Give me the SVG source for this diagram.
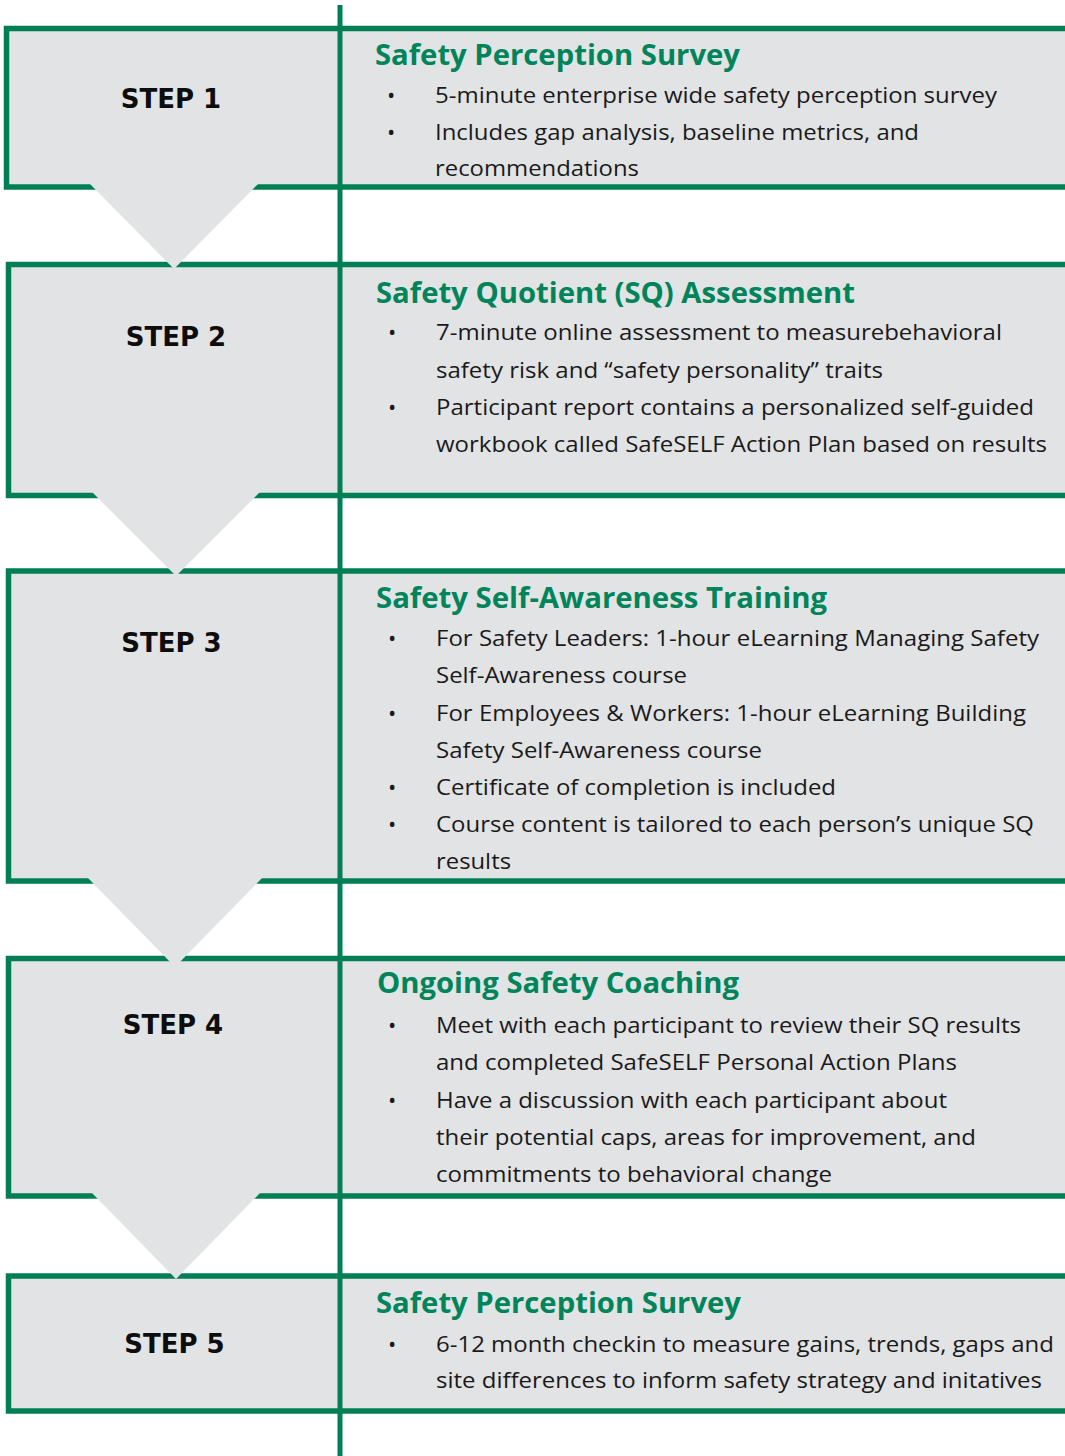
<svg xmlns="http://www.w3.org/2000/svg" width="1065" height="1456" viewBox="0 0 1065 1456">
  <style>
    .box { fill: #e2e3e5; stroke: #007f55; stroke-width: 5.5; }
    .chev { fill: #e2e3e5; stroke: none; }
    .divider { stroke: #007f55; stroke-width: 5; }
    .step { font-family: "DejaVu Sans", Verdana, sans-serif; font-weight: 700; font-size: 26px; fill: #0d0d0d; text-anchor: middle; }
    .head { font-family: "Open Sans", "Liberation Sans", sans-serif; font-weight: 700; font-size: 28px; fill: #00845a; }
    .body { font-family: "Open Sans", "Liberation Sans", sans-serif; font-size: 22px; fill: #1a1a1a; }
  </style>
  <rect width="1065" height="1456" fill="#ffffff"/>

  <!-- Step 1 -->
  <g id="step1">
    <rect class="box" x="6.5" y="28.5" width="1070" height="158.5"/>
    <text class="step" x="171" y="108">STEP 1</text>
    <text class="head" x="375" y="65" textLength="365" lengthAdjust="spacingAndGlyphs">Safety Perception Survey</text>
    <text class="body" x="387" y="103">•</text>
    <text class="body" x="435" y="103" textLength="562" lengthAdjust="spacingAndGlyphs">5-minute enterprise wide safety perception survey</text>
    <text class="body" x="387" y="140">•</text>
    <text class="body" x="435" y="140" textLength="484" lengthAdjust="spacingAndGlyphs">Includes gap analysis, baseline metrics, and</text>
    <text class="body" x="435" y="176" textLength="204" lengthAdjust="spacingAndGlyphs">recommendations</text>
  </g>

  <!-- Step 2 -->
  <g id="step2">
    <rect class="box" x="8.5" y="264.5" width="1070" height="231"/>
    <text class="step" x="176" y="346">STEP 2</text>
    <text class="head" x="376" y="303" textLength="479" lengthAdjust="spacingAndGlyphs">Safety Quotient (SQ) Assessment</text>
    <text class="body" x="388" y="340">•</text>
    <text class="body" x="436" y="340" textLength="566" lengthAdjust="spacingAndGlyphs">7-minute online assessment to measurebehavioral</text>
    <text class="body" x="436" y="378" textLength="447" lengthAdjust="spacingAndGlyphs">safety risk and “safety personality” traits</text>
    <text class="body" x="388" y="415">•</text>
    <text class="body" x="436" y="415" textLength="598" lengthAdjust="spacingAndGlyphs">Participant report contains a personalized self-guided</text>
    <text class="body" x="436" y="452" textLength="611" lengthAdjust="spacingAndGlyphs">workbook called SafeSELF Action Plan based on results</text>
  </g>

  <!-- Step 3 -->
  <g id="step3">
    <rect class="box" x="8.5" y="571" width="1070" height="310"/>
    <text class="step" x="171.5" y="652">STEP 3</text>
    <text class="head" x="376" y="608" textLength="451" lengthAdjust="spacingAndGlyphs">Safety Self-Awareness Training</text>
    <text class="body" x="388" y="646">•</text>
    <text class="body" x="436" y="646" textLength="603" lengthAdjust="spacingAndGlyphs">For Safety Leaders: 1-hour eLearning Managing Safety</text>
    <text class="body" x="436" y="683" textLength="251" lengthAdjust="spacingAndGlyphs">Self-Awareness course</text>
    <text class="body" x="388" y="721">•</text>
    <text class="body" x="436" y="721" textLength="590" lengthAdjust="spacingAndGlyphs">For Employees &amp; Workers: 1-hour eLearning Building</text>
    <text class="body" x="436" y="758" textLength="326" lengthAdjust="spacingAndGlyphs">Safety Self-Awareness course</text>
    <text class="body" x="388" y="795">•</text>
    <text class="body" x="436" y="795" textLength="400" lengthAdjust="spacingAndGlyphs">Certificate of completion is included</text>
    <text class="body" x="388" y="832">•</text>
    <text class="body" x="436" y="832" textLength="598" lengthAdjust="spacingAndGlyphs">Course content is tailored to each person’s unique SQ</text>
    <text class="body" x="436" y="869" textLength="75" lengthAdjust="spacingAndGlyphs">results</text>
  </g>

  <!-- Step 4 -->
  <g id="step4">
    <rect class="box" x="8.5" y="958.5" width="1070" height="237.5"/>
    <text class="step" x="173" y="1034">STEP 4</text>
    <text class="head" x="377" y="993" textLength="362" lengthAdjust="spacingAndGlyphs">Ongoing Safety Coaching</text>
    <text class="body" x="388" y="1033">•</text>
    <text class="body" x="436" y="1033" textLength="585" lengthAdjust="spacingAndGlyphs">Meet with each participant to review their SQ results</text>
    <text class="body" x="436" y="1070" textLength="521" lengthAdjust="spacingAndGlyphs">and completed SafeSELF Personal Action Plans</text>
    <text class="body" x="388" y="1108">•</text>
    <text class="body" x="436" y="1108" textLength="511" lengthAdjust="spacingAndGlyphs">Have a discussion with each participant about</text>
    <text class="body" x="436" y="1145" textLength="540" lengthAdjust="spacingAndGlyphs">their potential caps, areas for improvement, and</text>
    <text class="body" x="436" y="1182" textLength="396" lengthAdjust="spacingAndGlyphs">commitments to behavioral change</text>
  </g>

  <!-- Step 5 -->
  <g id="step5">
    <rect class="box" x="8.5" y="1276" width="1070" height="135"/>
    <text class="step" x="174.5" y="1353">STEP 5</text>
    <text class="head" x="376" y="1313" textLength="365" lengthAdjust="spacingAndGlyphs">Safety Perception Survey</text>
    <text class="body" x="388" y="1352">•</text>
    <text class="body" x="436" y="1352" textLength="618" lengthAdjust="spacingAndGlyphs">6-12 month checkin to measure gains, trends, gaps and</text>
    <text class="body" x="436" y="1388" textLength="606" lengthAdjust="spacingAndGlyphs">site differences to inform safety strategy and initatives</text>
  </g>

  <!-- Downward chevrons linking each step to the next -->
  <g id="connectors">
    <polygon class="chev" points="89,183 259,183 174,269"/>
    <polygon class="chev" points="92,492 260,492 176,576"/>
    <polygon class="chev" points="87,877 263,877 175,967"/>
    <polygon class="chev" points="91,1192 261,1192 176,1279"/>
  </g>

  <!-- Column divider -->
  <g id="divider">
    <line class="divider" x1="340" y1="5" x2="340" y2="1456"/>
  </g>
</svg>
